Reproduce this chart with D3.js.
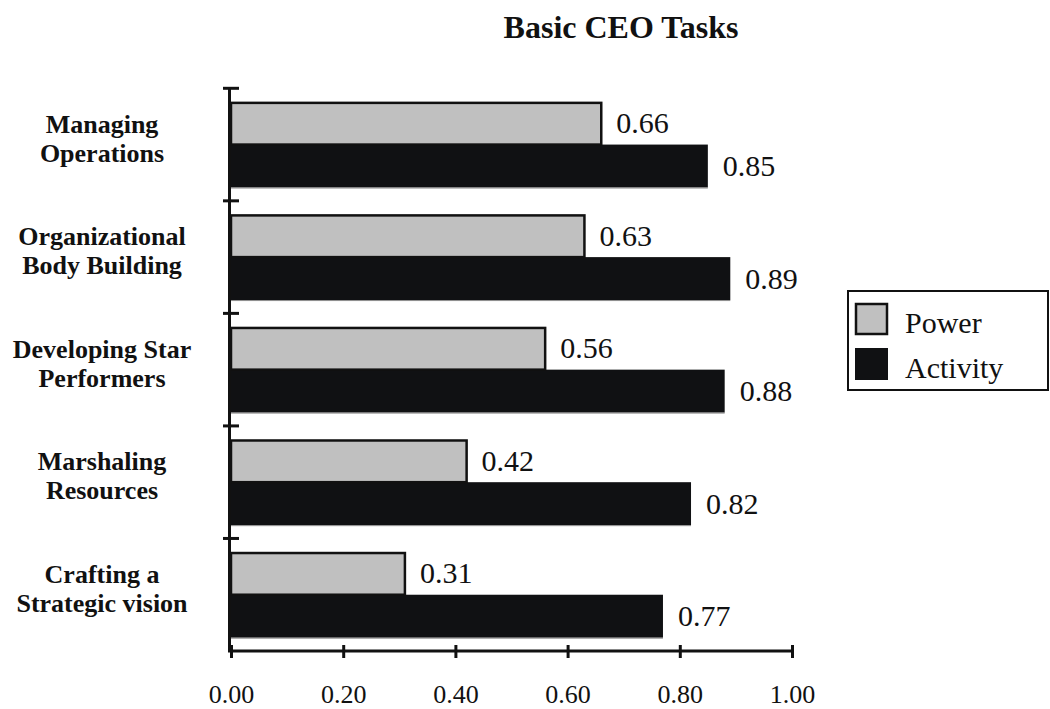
<!DOCTYPE html>
<html>
<head>
<meta charset="utf-8">
<script src="https://cdn.jsdelivr.net/npm/d3@7"></script>
<style>
  html, body { margin: 0; padding: 0; background: #fff; }
  svg { display: block; }
  text { font-family: "Liberation Serif", "Times New Roman", serif; fill: #111; }
</style>
</head>
<body>
<svg id="chart" width="1050" height="709"></svg>
<script>
const categories = [
  ["Managing", "Operations"],
  ["Organizational", "Body Building"],
  ["Developing Star", "Performers"],
  ["Marshaling", "Resources"],
  ["Crafting a", "Strategic vision"]
];
const seriesNames = ["Power", "Activity"];
const powerValues = [0.66, 0.63, 0.56, 0.42, 0.31];
const activityValues = [0.85, 0.89, 0.88, 0.82, 0.77];
const xTicks = [0, 0.2, 0.4, 0.6, 0.8, 1.0];
const title = "Basic CEO Tasks";

const colors = { Power: "#c0c0c0", Activity: "#101113" };
const ink = "#111";

const svg = d3.select("#chart");
const plotLeft = 231, plotRight = 792, plotTop = 88.3, plotBottom = 651;

const catKeys = categories.map((c, i) => i);
const x = d3.scaleLinear().domain([0, 1]).range([plotLeft, plotRight]);
const y = d3.scaleBand().domain(catKeys).range([plotTop, plotBottom]).padding(0);
const ySub = d3.scaleBand().domain(seriesNames).range([0, y.bandwidth()])
  .paddingInner(0).paddingOuter(0.31);

const data = catKeys.map(i => ({ i, Power: powerValues[i], Activity: activityValues[i] }));

// Title
svg.append("text")
  .attr("x", 621).attr("y", 38)
  .attr("text-anchor", "middle")
  .style("font-size", "32px").style("font-weight", "bold")
  .text(title);

// Bars
const groups = svg.append("g").selectAll("g").data(data).join("g")
  .attr("transform", d => `translate(0,${y(d.i)})`);

groups.append("rect")
  .attr("x", x(0))
  .attr("y", ySub("Activity"))
  .attr("width", d => x(d.Activity) - x(0))
  .attr("height", ySub.bandwidth())
  .attr("fill", colors.Activity);
groups.append("line")
  .attr("x1", x(0))
  .attr("x2", d => x(d.Activity))
  .attr("y1", ySub("Activity") + ySub.bandwidth() + 0.5)
  .attr("y2", ySub("Activity") + ySub.bandwidth() + 0.5)
  .attr("stroke", "#8a8a8a").attr("stroke-width", 1);

groups.append("rect")
  .attr("x", x(0))
  .attr("y", ySub("Power") + 1.25)
  .attr("width", d => x(d.Power) - x(0))
  .attr("height", ySub.bandwidth() - 1.25)
  .attr("fill", colors.Power)
  .attr("stroke", ink).attr("stroke-width", 2.5);

// Value labels
const labelOffset = 15;
groups.append("text")
  .attr("x", d => x(d.Power) + labelOffset)
  .attr("y", ySub("Power") + ySub.bandwidth() / 2 + 10)
  .style("font-size", "30px")
  .text(d => d3.format(".2f")(d.Power));
groups.append("text")
  .attr("x", d => x(d.Activity) + labelOffset)
  .attr("y", ySub("Activity") + ySub.bandwidth() / 2 + 10)
  .style("font-size", "30px")
  .text(d => d3.format(".2f")(d.Activity));

// Category labels
const catLabels = svg.append("g").selectAll("text").data(categories).join("text")
  .attr("text-anchor", "middle")
  .style("font-size", "26px").style("font-weight", "bold")
  .attr("x", 102)
  .attr("y", (d, i) => y(i) + y.bandwidth() / 2 - 12);
catLabels.selectAll("tspan").data(d => d).join("tspan")
  .attr("x", 102)
  .attr("dy", (d, j) => j === 0 ? 0 : 29)
  .text(d => d);

// Y axis: line and boundary ticks
const yAxisG = svg.append("g");
yAxisG.append("line")
  .attr("x1", x(0) - 1.5).attr("x2", x(0) - 1.5)
  .attr("y1", plotTop - 1).attr("y2", plotBottom)
  .attr("stroke", ink).attr("stroke-width", 3);
const boundaries = catKeys.map(i => y(i));
yAxisG.selectAll("line.tick").data(boundaries).join("line")
  .attr("class", "tick")
  .attr("x1", x(0) - 8).attr("x2", x(0) + 8)
  .attr("y1", d => d).attr("y2", d => d)
  .attr("stroke", ink).attr("stroke-width", 3);

// X axis
const xAxis = d3.axisBottom(x).tickValues(xTicks).tickFormat(d3.format(".2f"))
  .tickSize(0).tickPadding(0);
const xg = svg.append("g").attr("transform", `translate(0,${plotBottom})`).call(xAxis);
xg.select(".domain").remove();
xg.selectAll(".tick text")
  .attr("y", 52)
  .attr("dy", 0)
  .style("font-size", "26px")
  .style("font-family", '"Liberation Serif", "Times New Roman", serif')
  .attr("fill", ink);
xg.append("line")
  .attr("x1", x(0) - 3).attr("x2", x(1) + 1.5)
  .attr("y1", 0).attr("y2", 0)
  .attr("stroke", ink).attr("stroke-width", 3);
xg.selectAll(".tick").append("line")
  .attr("x1", 0).attr("x2", 0)
  .attr("y1", -6).attr("y2", 7)
  .attr("stroke", ink).attr("stroke-width", 3);

// Legend
const legend = svg.append("g").attr("transform", "translate(848,291)");
legend.append("rect")
  .attr("x", 0).attr("y", 0).attr("width", 200).attr("height", 99)
  .attr("fill", "#fff").attr("stroke", ink).attr("stroke-width", 2);
const items = legend.selectAll("g.item").data(seriesNames).join("g")
  .attr("class", "item")
  .attr("transform", (d, i) => `translate(0,${i * 45})`);
items.append("rect")
  .attr("x", d => d === "Power" ? 8 : 7)
  .attr("y", d => d === "Power" ? 13 : 12)
  .attr("width", d => d === "Power" ? 31 : 33)
  .attr("height", d => d === "Power" ? 30 : 32)
  .attr("fill", d => colors[d])
  .attr("stroke", d => d === "Power" ? ink : "none")
  .attr("stroke-width", 2.5);
items.append("text")
  .attr("x", 57).attr("y", 42)
  .style("font-size", "30px")
  .text(d => d);
</script>
</body>
</html>
